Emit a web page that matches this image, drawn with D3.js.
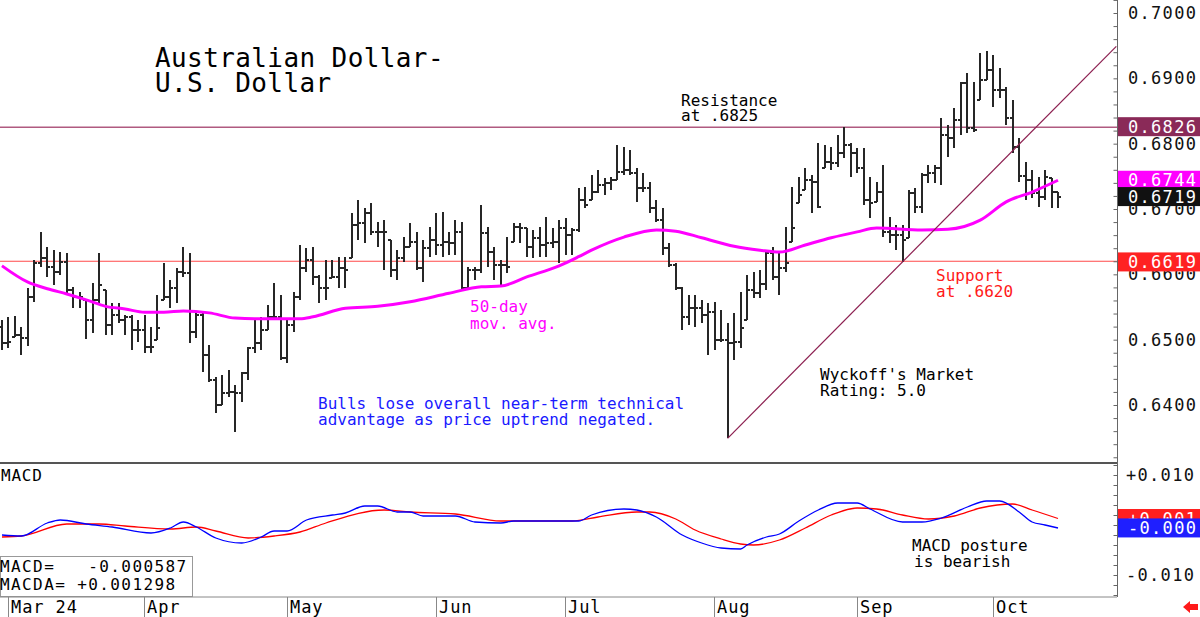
<!DOCTYPE html>
<html>
<head>
<meta charset="utf-8">
<title>Australian Dollar - U.S. Dollar</title>
<script src="https://d3js.org/d3.v7.min.js"></script>
<style>
  body { margin: 0; background: #fff; }
  svg text { font-family: "DejaVu Sans Mono", monospace; }
</style>
</head>
<body>
<div id="chart"></div>
<script>
// month labels and the bar index where each month starts
var months = ["Mar 24", "Apr", "May", "Jun", "Jul", "Aug", "Sep", "Oct"];
var monthStart = [1, 22, 44, 67, 87, 110, 132, 153];

// daily bars, 29 Feb .. 15 Oct
var open = [0.6520,
  0.6495,0.6496,0.6507,0.6503,0.6565,0.6617,0.6625,0.6611,0.6604,0.6619,
  0.6576,0.6565,0.6565,0.6530,0.6561,0.6584,0.6522,0.6538,0.6530,0.6535,
  0.6515,0.6515,0.6489,0.6489,0.6518,0.6565,0.6579,0.6604,0.6602,0.6512,
  0.6538,0.6477,0.6438,0.6400,0.6418,0.6420,0.6418,0.6449,0.6487,0.6495,
  0.6515,0.6534,0.6534,0.6472,0.6522,0.6565,0.6610,0.6622,0.6596,0.6579,
  0.6579,0.6596,0.6610,0.6607,0.6676,0.6679,0.6694,0.6665,0.6665,0.6665,
  0.6607,0.6625,0.6642,0.6649,0.6610,0.6640,0.6653,0.6645,0.6649,0.6648,
  0.6665,0.6579,0.6607,0.6607,0.6663,0.6634,0.6614,0.6614,0.6611,0.6672,
  0.6671,0.6642,0.6656,0.6645,0.6648,0.6649,0.6671,0.6660,0.6668,0.6714,
  0.6706,0.6726,0.6737,0.6740,0.6744,0.6757,0.6760,0.6755,0.6732,0.6732,
  0.6702,0.6683,0.6640,0.6614,0.6579,0.6535,0.6548,0.6548,0.6538,0.6542,
  0.6499,0.6499,0.6495,0.6496,0.6518,0.6576,0.6572,0.6585,0.6633,0.6596,
  0.6610,0.6617,0.6671,0.6721,0.6744,0.6741,0.6703,0.6772,0.6770,0.6786,
  0.6798,0.6786,0.6763,0.6714,0.6709,0.6726,0.6665,0.6660,0.6660,0.6652,
  0.6724,0.6703,0.6752,0.6755,0.6763,0.6813,0.6809,0.6836,0.6893,0.6824,
  0.6821,0.6897,0.6913,0.6882,0.6882,0.6839,0.6795,0.6750,0.6744,0.6724,
  0.6718,0.6749,0.6726];
var high = [
  0.6530,0.6534,0.6536,0.6519,0.6579,0.6622,0.6665,0.6642,0.6637,0.6634,
  0.6632,0.6581,0.6573,0.6561,0.6587,0.6632,0.6576,0.6556,0.6556,0.6538,
  0.6538,0.6530,0.6538,0.6519,0.6568,0.6617,0.6591,0.6610,0.6642,0.6632,
  0.6542,0.6542,0.6492,0.6443,0.6446,0.6454,0.6431,0.6450,0.6489,0.6530,
  0.6534,0.6553,0.6587,0.6568,0.6530,0.6573,0.6645,0.6640,0.6642,0.6599,
  0.6622,0.6622,0.6627,0.6627,0.6694,0.6714,0.6702,0.6709,0.6680,0.6683,
  0.6653,0.6637,0.6657,0.6679,0.6665,0.6653,0.6672,0.6694,0.6695,0.6665,
  0.6683,0.6680,0.6611,0.6611,0.6706,0.6672,0.6642,0.6622,0.6657,0.6679,
  0.6679,0.6671,0.6668,0.6672,0.6688,0.6671,0.6683,0.6686,0.6671,0.6732,
  0.6734,0.6752,0.6760,0.6747,0.6749,0.6798,0.6795,0.6790,0.6763,0.6755,
  0.6741,0.6714,0.6702,0.6648,0.6617,0.6581,0.6568,0.6568,0.6561,0.6556,
  0.6558,0.6546,0.6525,0.6541,0.6573,0.6599,0.6604,0.6607,0.6637,0.6642,
  0.6634,0.6672,0.6734,0.6749,0.6763,0.6752,0.6801,0.6798,0.6795,0.6813,
  0.6825,0.6801,0.6793,0.6793,0.6749,0.6741,0.6767,0.6688,0.6675,0.6675,
  0.6729,0.6732,0.6755,0.6767,0.6767,0.6839,0.6829,0.6855,0.6894,0.6908,
  0.6894,0.6939,0.6942,0.6936,0.6916,0.6887,0.6867,0.6809,0.6772,0.6760,
  0.6749,0.6760,0.6747,0.6726];
var low = [
  0.6484,0.6487,0.6504,0.6477,0.6490,0.6558,0.6611,0.6596,0.6584,0.6599,
  0.6568,0.6548,0.6548,0.6501,0.6510,0.6556,0.6507,0.6507,0.6526,0.6507,
  0.6484,0.6496,0.6480,0.6480,0.6499,0.6561,0.6548,0.6556,0.6596,0.6495,
  0.6503,0.6450,0.6435,0.6388,0.6400,0.6412,0.6359,0.6404,0.6438,0.6480,
  0.6484,0.6515,0.6530,0.6469,0.6464,0.6512,0.6561,0.6604,0.6584,0.6556,
  0.6561,0.6594,0.6579,0.6579,0.6625,0.6653,0.6648,0.6660,0.6642,0.6607,
  0.6596,0.6591,0.6619,0.6642,0.6607,0.6588,0.6627,0.6630,0.6627,0.6630,
  0.6630,0.6576,0.6576,0.6591,0.6602,0.6611,0.6591,0.6581,0.6602,0.6649,
  0.6648,0.6627,0.6625,0.6627,0.6627,0.6640,0.6617,0.6630,0.6630,0.6665,
  0.6702,0.6714,0.6724,0.6721,0.6729,0.6744,0.6752,0.6752,0.6711,0.6726,
  0.6694,0.6680,0.6630,0.6611,0.6576,0.6515,0.6522,0.6519,0.6526,0.6477,
  0.6484,0.6496,0.6349,0.6469,0.6487,0.6530,0.6564,0.6564,0.6576,0.6591,
  0.6568,0.6604,0.6649,0.6709,0.6729,0.6694,0.6702,0.6763,0.6760,0.6764,
  0.6778,0.6749,0.6755,0.6706,0.6686,0.6711,0.6657,0.6648,0.6637,0.6619,
  0.6656,0.6694,0.6694,0.6740,0.6740,0.6737,0.6780,0.6793,0.6813,0.6816,
  0.6818,0.6867,0.6897,0.6856,0.6870,0.6829,0.6786,0.6741,0.6714,0.6717,
  0.6703,0.6714,0.6702,0.6702];
var close = [
  0.6495,0.6496,0.6507,0.6503,0.6565,0.6617,0.6625,0.6611,0.6604,0.6619,
  0.6576,0.6565,0.6565,0.6530,0.6561,0.6584,0.6522,0.6538,0.6530,0.6535,
  0.6515,0.6515,0.6489,0.6489,0.6518,0.6565,0.6579,0.6604,0.6602,0.6512,
  0.6538,0.6477,0.6438,0.6400,0.6418,0.6420,0.6418,0.6449,0.6487,0.6495,
  0.6515,0.6534,0.6534,0.6472,0.6522,0.6565,0.6610,0.6622,0.6596,0.6579,
  0.6579,0.6596,0.6610,0.6607,0.6676,0.6679,0.6694,0.6665,0.6665,0.6665,
  0.6607,0.6625,0.6642,0.6649,0.6610,0.6640,0.6653,0.6645,0.6649,0.6648,
  0.6665,0.6579,0.6607,0.6607,0.6663,0.6634,0.6614,0.6614,0.6611,0.6672,
  0.6671,0.6642,0.6656,0.6645,0.6648,0.6649,0.6671,0.6660,0.6668,0.6714,
  0.6706,0.6726,0.6737,0.6740,0.6744,0.6757,0.6760,0.6755,0.6732,0.6732,
  0.6702,0.6683,0.6640,0.6614,0.6579,0.6535,0.6548,0.6548,0.6538,0.6542,
  0.6499,0.6499,0.6495,0.6496,0.6518,0.6576,0.6572,0.6585,0.6633,0.6596,
  0.6610,0.6617,0.6671,0.6721,0.6744,0.6741,0.6703,0.6772,0.6770,0.6786,
  0.6798,0.6786,0.6763,0.6714,0.6709,0.6726,0.6665,0.6660,0.6660,0.6652,
  0.6724,0.6703,0.6752,0.6755,0.6763,0.6813,0.6809,0.6836,0.6893,0.6824,
  0.6821,0.6897,0.6913,0.6882,0.6882,0.6839,0.6795,0.6750,0.6744,0.6724,
  0.6718,0.6749,0.6726,0.6719];

// 50-day moving average at these bars
var maIdx = [0,4,7,10,13,16,19,22,25,28,32,36,39,42,46,48,53,58,63,69,74,77,81,86,89,91,96,101,104,108,113,117,120,124,128,132,135,142,146,151,155,159,163];
var maVal = [0.6613,0.6588,0.6578,0.6570,0.6561,0.6551,0.6547,0.6542,0.6542,0.6544,0.6541,0.6533,0.6532,0.6532,0.6532,0.6535,0.6548,0.6551,0.6558,0.6571,0.6581,0.6582,0.6596,0.6613,0.6627,0.6637,0.6657,0.6668,0.6666,0.6656,0.6643,0.6637,0.6634,0.6645,0.6656,0.6665,0.6671,0.6668,0.6669,0.6683,0.6711,0.6726,0.6744];

// MACD (blue) and its average (red)
var macdIdx = [0,3,7,9,13,17,23,26,28,30,33,37,40,42,44,47,51,53,56,58,61,63,65,70,73,77,79,89,91,96,98,101,105,108,111,114,115,118,120,123,126,129,132,134,139,142,145,149,152,154,157,159,161,163];
var macdVal = [-0.0020,-0.0022,0.0004,0.0010,0.0002,-0.0004,-0.0016,-0.0006,0.0006,-0.0004,-0.0026,-0.0036,-0.0024,-0.0012,-0.0012,0.0010,0.0020,0.0024,0.0038,0.0038,0.0026,0.0026,0.0018,0.0018,0.0006,0.0004,0.0008,0.0008,0.0020,0.0032,0.0030,0.0016,-0.0020,-0.0036,-0.0046,-0.0048,-0.0040,-0.0024,-0.0018,0.0008,0.0030,0.0044,0.0044,0.0032,0.0006,0.0006,0.0014,0.0036,0.0048,0.0048,0.0026,0.0006,0.0000,-0.0006];
var signalIdx = [0,3,10,15,19,26,30,33,38,42,46,50,59,63,70,77,88,92,98,100,104,107,111,114,116,120,124,128,132,135,139,143,147,151,156,159,163];
var signalVal = [-0.0024,-0.0022,0.0002,0.0002,-0.0002,-0.0008,-0.0004,-0.0012,-0.0026,-0.0022,-0.0014,0.0004,0.0030,0.0026,0.0022,0.0008,0.0008,0.0016,0.0026,0.0026,0.0012,-0.0010,-0.0028,-0.0038,-0.0040,-0.0030,-0.0006,0.0020,0.0034,0.0032,0.0020,0.0012,0.0018,0.0034,0.0042,0.0030,0.0013];

// levels and uptrend line
var resistance = 0.6825;
var support = 0.6620;
var trendIdx = [112, 172];
var trendVal = [0.6349, 0.6949];

var priceTicks = [0.64, 0.65, 0.66, 0.67, 0.68, 0.69, 0.70];
var macdTicks = [-0.01, 0.01];
var priceTags = [
  { text: "0.6826", value: 0.6826, color: "#8a2a58" },
  { text: "0.6744", value: 0.6744, color: "#ff00ff" },
  { text: "0.6719", value: 0.6719, color: "#111111" },
  { text: "0.6619", value: 0.6619, color: "#ff2222" }
];
var macdTags = [
  { text: "+0.001", value: 0.001298, color: "#ff1f1f" },
  { text: "-0.000", value: -0.000587, color: "#1f1fff" }
];

var W = 1200, H = 617;
var plotRight = 1117, priceBottom = 463, macdBottom = 597;

var svg = d3.select("#chart").append("svg").attr("width", W).attr("height", H);
svg.append("rect").attr("width", W).attr("height", H).attr("fill", "#fff");

var x = d3.scaleLinear().domain([0, 163]).range([2, 1058]);
var y = d3.scaleLinear().domain([0.64, 0.70]).range([405, 13]);
var ym = d3.scaleLinear().domain([-0.01, 0.01]).range([575, 475]);

svg.append("clipPath").attr("id", "priceClip")
  .append("rect").attr("x", 0).attr("y", 0).attr("width", plotRight).attr("height", priceBottom);

// support / resistance
svg.append("line").attr("x1", 0).attr("x2", plotRight)
  .attr("y1", y(resistance)).attr("y2", y(resistance))
  .attr("stroke", "#b05a80").attr("stroke-width", 1.5);
svg.append("line").attr("x1", 0).attr("x2", plotRight)
  .attr("y1", y(support)).attr("y2", y(support))
  .attr("stroke", "#ff4a4a").attr("stroke-width", 1.2);

// price bars
var idx = d3.range(close.length);
var bars = svg.append("g").attr("stroke", "#262626").attr("stroke-width", 2).attr("shape-rendering", "crispEdges");
bars.selectAll("line.hl").data(idx).enter().append("line")
  .attr("x1", (i) => Math.round(x(i))).attr("x2", (i) => Math.round(x(i)))
  .attr("y1", (i) => y(high[i])).attr("y2", (i) => y(low[i]));
bars.selectAll("line.o").data(idx).enter().append("line")
  .attr("x1", (i) => Math.round(x(i)) - 3).attr("x2", (i) => Math.round(x(i)))
  .attr("y1", (i) => y(Math.max(low[i], Math.min(high[i], open[i]))))
  .attr("y2", (i) => y(Math.max(low[i], Math.min(high[i], open[i]))));
bars.selectAll("line.c").data(idx).enter().append("line")
  .attr("x1", (i) => Math.round(x(i))).attr("x2", (i) => Math.round(x(i)) + 3)
  .attr("y1", (i) => y(close[i])).attr("y2", (i) => y(close[i]));

// 50-day moving average
var maLine = d3.line().x((d) => x(d[0])).y((d) => y(d[1])).curve(d3.curveMonotoneX);
svg.append("path").datum(d3.zip(maIdx, maVal)).attr("d", maLine)
  .attr("fill", "none").attr("stroke", "#ff00ff").attr("stroke-width", 3);

// uptrend line
svg.append("line").attr("clip-path", "url(#priceClip)")
  .attr("x1", x(trendIdx[0])).attr("y1", y(trendVal[0]))
  .attr("x2", x(trendIdx[1])).attr("y2", y(trendVal[1]))
  .attr("stroke", "#8c1f50").attr("stroke-width", 1.2);

// annotations
function note(lines, px, py, color, size, gap) {
  lines.forEach(function (t, k) {
    svg.append("text").text(t).attr("x", px).attr("y", py + k * gap)
      .attr("fill", color).attr("font-size", size + "px")
      .style("white-space", "pre");
  });
}
note(["Australian Dollar-", "U.S. Dollar"], 155, 67, "#000", 26, 25);
svg.selectAll("text").attr("letter-spacing", "0.4px");
note(["Resistance", "at .6825"], 681, 106, "#000", 16, 15);
note(["Support", "at .6620"], 936, 281, "#ff1a1a", 16, 16);
note(["50-day", "mov. avg."], 470, 312, "#ff00ff", 16, 17);
note(["Wyckoff's Market", "Rating: 5.0"], 820, 380, "#000", 16, 16);
note(["Bulls lose overall near-term technical", "advantage as price uptrend negated."], 318, 409, "#1a1aff", 16, 16);
note(["MACD posture"], 912, 551, "#000", 16, 16);
note(["is bearish"], 914, 567, "#000", 16, 16);

// panel separator
svg.append("line").attr("x1", 0).attr("x2", plotRight).attr("y1", priceBottom).attr("y2", priceBottom)
  .attr("stroke", "#555").attr("stroke-width", 2);
svg.append("text").text("MACD").attr("x", 1).attr("y", 481).attr("font-size", "16px").attr("letter-spacing", "0.8px");

// MACD lines
var mLine = d3.line().x((d) => x(d[0])).y((d) => ym(d[1])).curve(d3.curveMonotoneX);
svg.append("path").datum(d3.zip(signalIdx, signalVal)).attr("d", mLine)
  .attr("fill", "none").attr("stroke", "#ff0000").attr("stroke-width", 1.3);
svg.append("path").datum(d3.zip(macdIdx, macdVal)).attr("d", mLine)
  .attr("fill", "none").attr("stroke", "#0000ff").attr("stroke-width", 1.3);

// MACD readout box
svg.append("rect").attr("x", 0.5).attr("y", 556.5).attr("width", 192).attr("height", 40)
  .attr("fill", "#fff").attr("stroke", "#999");
note(["MACD=   -0.000587", "MACDA= +0.001298"], 0, 572, "#000", 16, 18);
svg.selectAll("text").filter(function () { return this.getAttribute("y") > 560 && this.getAttribute("x") == 0; })
  .attr("letter-spacing", "1.4px");

// bottom axis with month dividers
svg.append("line").attr("x1", 0).attr("x2", plotRight).attr("y1", macdBottom).attr("y2", macdBottom)
  .attr("stroke", "#888");
var mg = svg.append("g").selectAll("g").data(months).enter().append("g")
  .attr("transform", (d, k) => "translate(" + Math.round(x(monthStart[k]) - 0.5) + ",0)");
mg.append("line").attr("x1", 0.5).attr("x2", 0.5).attr("y1", macdBottom).attr("y2", H)
  .attr("stroke", "#888");
mg.append("text").text((d) => d).attr("x", 3).attr("y", 613)
  .attr("font-size", "17px").attr("letter-spacing", "0.9px").style("white-space", "pre");

// right axis
svg.append("line").attr("x1", plotRight + 0.5).attr("x2", plotRight + 0.5).attr("y1", 0).attr("y2", macdBottom)
  .attr("stroke", "#666");
var minorP = svg.append("g").attr("transform", "translate(" + (plotRight + 0.5) + ",0)")
  .call(d3.axisLeft(y).tickValues(d3.range(0.632, 0.7021, 0.002)).tickSize(4).tickFormat(""));
var minorM = svg.append("g").attr("transform", "translate(" + (plotRight + 0.5) + ",0)")
  .call(d3.axisLeft(ym).tickValues(d3.range(-0.014, 0.0121, 0.002)).tickSize(4).tickFormat(""));
[minorP, minorM].forEach(function (a) {
  a.select(".domain").remove();
  a.selectAll("line").attr("stroke", "#666");
});

var pAxis = svg.append("g").attr("transform", "translate(" + plotRight + ",0)")
  .call(d3.axisRight(y).tickValues(priceTicks).tickSize(0).tickPadding(11).tickFormat(d3.format(".4f")));
var mAxis = svg.append("g").attr("transform", "translate(" + plotRight + ",0)")
  .call(d3.axisRight(ym).tickValues(macdTicks).tickSize(0).tickPadding(9)
    .tickFormat((v) => (v > 0 ? "+" : "-") + Math.abs(v).toFixed(3)));
[pAxis, mAxis].forEach(function (a) {
  a.select(".domain").remove();
  a.selectAll("text").attr("font-family", "DejaVu Sans Mono, monospace")
    .attr("font-size", "17px").attr("letter-spacing", "1.3px").attr("fill", "#111");
});

// value tags on the right
function tags(list, scale) {
  var t = svg.append("g").selectAll("g").data(list).enter().append("g")
    .attr("transform", (d) => "translate(" + (plotRight + 1) + "," + scale(d.value) + ")");
  t.append("rect").attr("x", 0).attr("y", -9.5).attr("width", W - plotRight).attr("height", 19)
    .attr("fill", (d) => d.color);
  t.append("text").text((d) => d.text).attr("x", 10).attr("y", 6)
    .attr("fill", "#fff").attr("font-size", "17px").attr("letter-spacing", "1.3px");
}
tags(priceTags, y);
tags(macdTags, ym);

// little red arrow, bottom right
svg.append("path").attr("d", "M1183,607 L1190,601 L1190,604 L1198,604 L1198,610 L1190,610 L1190,613 Z")
  .attr("fill", "#ff1a1a");
</script>
</body>
</html>
